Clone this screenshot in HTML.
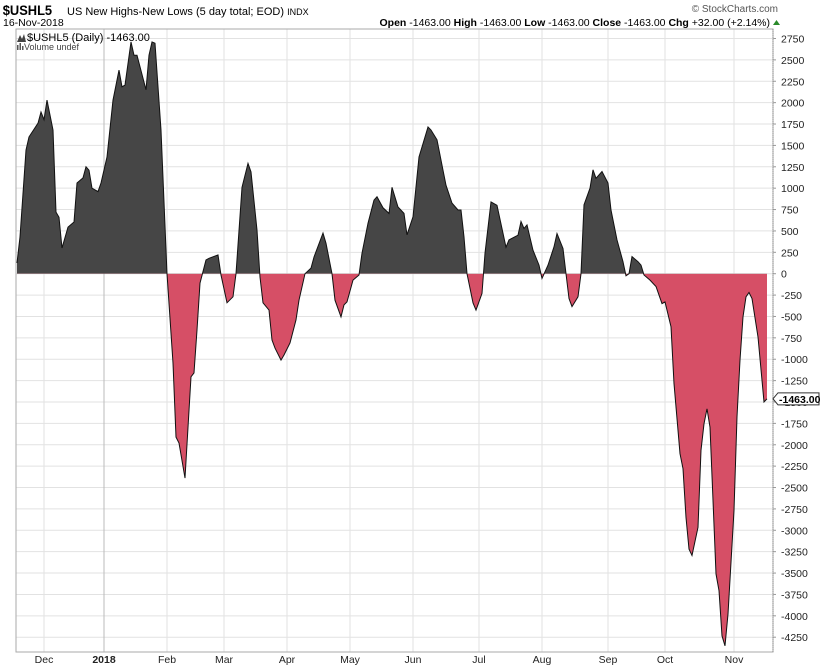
<!DOCTYPE html>
<html><head><meta charset="utf-8">
<style>
body{margin:0;background:#fff;width:820px;height:668px;overflow:hidden;font-family:"Liberation Sans",sans-serif;}
svg{display:block}
text{font-family:"Liberation Sans",sans-serif;}
</style></head>
<body>
<svg id="chart" width="820" height="668" viewBox="0 0 820 668" xmlns="http://www.w3.org/2000/svg">
  <g>
    <text x="3" y="15" font-size="14" font-weight="bold" transform="scale(0.92,1)">$USHL5</text>
    <text x="67" y="15" font-size="11">US New Highs-New Lows (5 day total; EOD) <tspan font-size="9">INDX</tspan></text>
    <text x="778" y="12" font-size="10" fill="#555" text-anchor="end">© StockCharts.com</text>
    <text x="3" y="26" font-size="10.5">16-Nov-2018</text>
    <text x="770" y="26" font-size="10.5" text-anchor="end"><tspan font-weight="bold">Open</tspan> -1463.00 <tspan font-weight="bold">High</tspan> -1463.00 <tspan font-weight="bold">Low</tspan> -1463.00 <tspan font-weight="bold">Close</tspan> -1463.00 <tspan font-weight="bold">Chg</tspan> +32.00 (+2.14%)</text>
    <path d="M773 25 L776.5 20 L780 25 Z" fill="#2a8a2a"/>
  </g>
  <g id="grid"></g>
  <g id="series"></g>
  <g id="axes"></g>
  <g>
    <path d="M17 42 L20 35 L22 39 L24 34 L26 42 Z" fill="#444"/>
    <text x="27" y="41" font-size="11">$USHL5 (Daily) -1463.00</text>
    <rect x="17" y="45" width="1.5" height="5" fill="#555"/><rect x="19.5" y="43" width="1.5" height="7" fill="#555"/><rect x="22" y="46" width="1.5" height="4" fill="#555"/>
    <text x="24" y="50" font-size="9" fill="#444">Volume undef</text>
  </g>
</svg>
<script>
const days = [0,1,3,4,7,8,9,10,12,13,14,15,17,19,20,22,23,24,25,27,28,30,32,34,35,36,38,39,40,43,44,45,46,48,50,52,53,54,56,58,59,60,61,63,64,67,68,70,72,73,75,77,78,80,81,82,84,85,86,88,89,91,93,94,96,98,99,102,103,105,106,108,109,110,112,114,115,117,119,120,122,124,125,127,129,130,132,134,137,138,140,142,143,145,147,148,149,150,152,153,155,156,158,160,163,164,167,168,169,170,172,174,175,177,179,180,182,183,184,185,187,188,189,191,192,193,195,197,198,200,202,203,204,205,207,208,209,211,213,215,216,218,219,221,222,223,224,225,227,228,229,230,231,232,233,234,235,236,237,239,240,241,242,243,244,245,247,249,250];
const values = [125,430,1445,1600,1760,1890,1800,2030,1680,720,660,300,545,605,1060,1120,1250,1210,1000,960,1060,1365,2030,2380,2185,2205,2710,2555,2555,2150,2555,2710,2695,1680,0,-1045,-1910,-1980,-2390,-1205,-1160,-660,-110,160,180,220,-15,-340,-270,0,1010,1290,1190,510,-40,-340,-425,-775,-870,-1010,-950,-810,-540,-310,0,65,195,475,355,0,-310,-505,-365,-330,-75,-15,240,590,860,900,770,705,1010,780,705,455,665,1365,1715,1680,1565,1210,1035,825,745,745,430,0,-340,-425,-230,240,840,800,310,395,450,610,530,570,275,100,-55,100,315,470,295,0,-290,-385,-270,0,805,1000,1215,1115,1195,1060,745,395,140,-25,0,200,140,100,-15,-75,-150,-350,-330,-620,-1285,-2105,-2280,-2850,-3220,-3295,-2965,-2065,-1755,-1580,-1795,-2650,-3510,-3705,-4235,-4350,-3980,-2770,-1675,-1010,-505,-270,-220,-290,-740,-1500,-1463];
const yTicks = [2750,2500,2250,2000,1750,1500,1250,1000,750,500,250,0,-250,-500,-750,-1000,-1250,-1500,-1750,-2000,-2250,-2500,-2750,-3000,-3250,-3500,-3750,-4000,-4250];
const monthLabels = ["Dec","2018","Feb","Mar","Apr","May","Jun","Jul","Aug","Sep","Oct","Nov"];
const monthDays = [9,29,50,69,90,111,132,154,175,197,216,239];
const lastValue = -1463;

const NS="http://www.w3.org/2000/svg";
const L=16,R=773,T=29,B=652;
const xS=d=>17+d*3;
const yS=v=>273.7-v*0.08553;
function mk(tag,attrs,parent){const e=document.createElementNS(NS,tag);for(const k in attrs)e.setAttribute(k,attrs[k]);parent.appendChild(e);return e;}
const grid=document.getElementById('grid'),series=document.getElementById('series'),axes=document.getElementById('axes');

yTicks.forEach(v=>{
  const y=yS(v);
  const g=mk('line',{x1:L,x2:R,y1:y,y2:y,stroke:'#e2e2e2','stroke-width':1},grid);
  
  
  const t=mk('text',{x:781,y:y+4,'font-size':10.5,fill:'#222'},axes);
  
  
  t.textContent=v;
  mk('line',{x1:R,x2:R+3,y1:y,y2:y,stroke:'#999'},axes);
});
monthDays.forEach((d,i)=>{
  const x=xS(d);
  const g=mk('line',{x1:x,x2:x,y1:T,y2:B,stroke:i===1?'#bbb':'#e2e2e2','stroke-width':1},grid);
  
  
  const t=mk('text',{x:x,y:663,'font-size':10.5,'text-anchor':'middle',fill:'#222','font-weight':i===1?'bold':'normal'},axes);
  
  
  t.textContent=monthLabels[i];
});
const fr=mk('rect',{x:L,y:T,width:R-L,height:B-T,fill:'none',stroke:'#aaa','stroke-width':1},axes);


mk('line',{x1:R,x2:R,y1:T,y2:B,stroke:'#888','stroke-dasharray':'1,1'},axes);

const defs=mk('defs',{},series);
const c1=mk('clipPath',{id:'above'},defs);mk('rect',{x:0,y:0,width:820,height:yS(0)},c1);
const c2=mk('clipPath',{id:'below'},defs);mk('rect',{x:0,y:yS(0),width:820,height:668},c2);
let line='';
days.forEach((d,i)=>{line+=(i?'L':'M')+xS(d).toFixed(1)+' '+yS(values[i]).toFixed(1);});
const area=line+'L'+xS(days[days.length-1])+' '+yS(0)+'L'+xS(days[0])+' '+yS(0)+'Z';
const a1=mk('path',{d:area,fill:'#464646','clip-path':'url(#above)'},series);


const a2=mk('path',{d:area,fill:'#d64f66','clip-path':'url(#below)'},series);


const ln=mk('path',{d:line,fill:'none',stroke:'#111','stroke-width':1},series);



const ly=yS(lastValue);
const tag=mk('path',{d:`M${R} ${ly} L${R+5} ${ly-6} L819 ${ly-6} L819 ${ly+6} L${R+5} ${ly+6} Z`,fill:'#fff',stroke:'#333'},axes);


const tt=mk('text',{x:R+6,y:ly+4,'font-size':10.5,'font-weight':'bold'},axes);


tt.textContent=lastValue.toFixed(2);
</script>
</body></html>
